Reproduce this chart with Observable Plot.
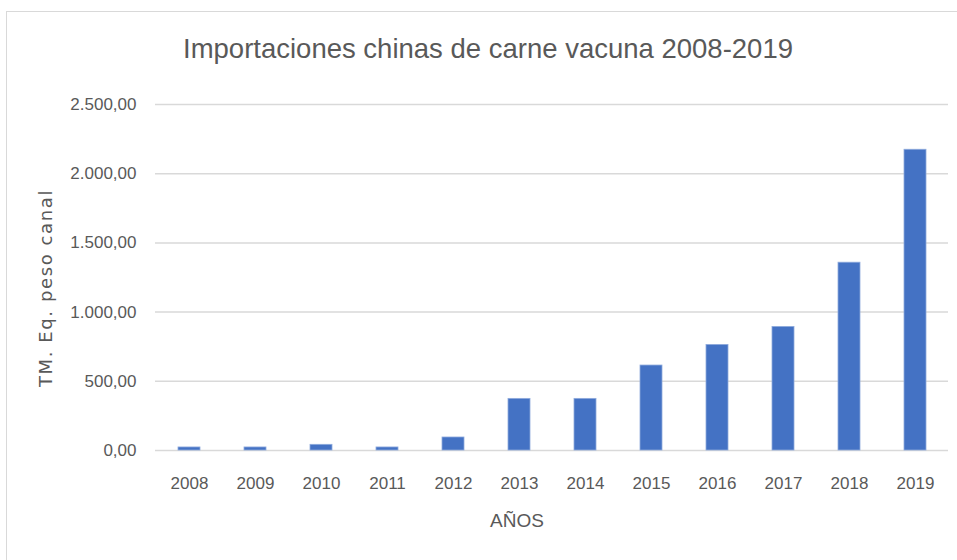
<!DOCTYPE html>
<html><head><meta charset="utf-8">
<script src="https://cdn.jsdelivr.net/npm/d3@7"></script>
<script src="https://cdn.jsdelivr.net/npm/@observablehq/plot@0.6"></script>
<style>
body{margin:0;background:#fff;}
#wrap{position:relative;width:957px;height:560px;overflow:hidden;background:#fff;}
#frame{position:absolute;left:6px;top:11px;width:970px;height:580px;border:1.5px solid #d9d9d9;box-sizing:border-box;}
#title{position:absolute;top:33px;left:0;width:976px;text-align:center;font-family:"Liberation Sans",sans-serif;font-size:27.5px;color:#595959;}
#xlabel{position:absolute;top:510px;left:0;width:1034px;text-align:center;font-family:"Liberation Sans",sans-serif;font-size:19px;color:#595959;}
#ylabel{position:absolute;left:45px;top:288px;transform:translate(-50%,-50%) rotate(-90deg);white-space:nowrap;font-family:"DejaVu Sans",sans-serif;font-size:18px;letter-spacing:1.6px;color:#595959;}
svg{position:absolute;left:0;top:0;}
</style></head>
<body><div id="wrap"><div id="frame"></div><div id="title">Importaciones chinas de carne vacuna 2008-2019</div><div id="ylabel">TM. Eq. peso canal</div><div id="xlabel">AÑOS</div></div>
<script>
const years = ["2008","2009","2010","2011","2012","2013","2014","2015","2016","2017","2018","2019"];
const values = [22, 22, 41, 22, 94, 373, 373, 614, 763, 893, 1357, 2173];
const yTicks = [0, 500, 1000, 1500, 2000, 2500];

const data = years.map((y, i) => ({year: y, value: values[i]}));
const fmt = d3.formatLocale({decimal: ",", thousands: ".", grouping: [3], currency: ["", ""]}).format(",.2f");

const chart = Plot.plot({
  width: 957, height: 560,
  marginTop: 104, marginBottom: 110, marginLeft: 155, marginRight: 9,
  style: {fontFamily: "'Liberation Sans', sans-serif", fontSize: "17px", color: "#595959", background: "transparent"},
  x: {domain: years, paddingInner: 0.67, paddingOuter: 0.335, label: null, tickSize: 0, tickPadding: 26},
  y: {domain: [0, 2500], ticks: yTicks, tickFormat: fmt, label: null, tickSize: 0, tickPadding: 19},
  marks: [
    Plot.ruleY(yTicks, {stroke: "#d9d9d9", strokeWidth: 1.5}),
    Plot.barY(data, {x: "year", y: "value", fill: "#4472C4", stroke: "#8fabdd", strokeWidth: 0.8})
  ]
});
document.getElementById("wrap").appendChild(chart);
</script>
</body></html>
